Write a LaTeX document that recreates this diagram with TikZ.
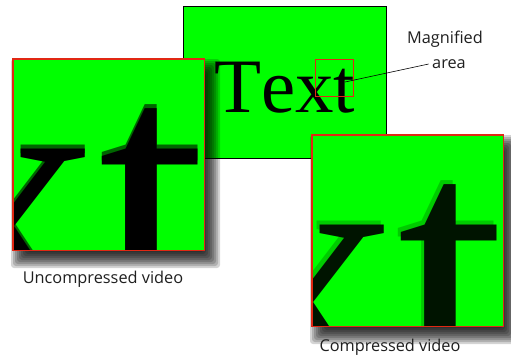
\documentclass[tikz,border=0pt]{standalone}
\usepackage{fontspec}
\setmainfont{Liberation Serif}
\newfontfamily\labelfont{Open Sans}
\newfontfamily\bigfont[Kerning=Off]{Liberation Serif}
\usetikzlibrary{calc}
\definecolor{vgreen}{RGB}{0,255,0}
\definecolor{vred}{RGB}{225,40,20}
\newcommand\bigword{\bigfont\fontsize{77}{77}\selectfont}
\newcommand\magscale{5.05}
\newcommand\softshadow[2]{%
  \foreach \r in {9,7,...,-7}{%
    \fill[black, opacity=0.17, rounded corners=3pt]
      ($(#1)+(7-\r,9-\r)$) rectangle ($(#2)+(7+\r,9+\r)$);}}
\begin{document}
\begin{tikzpicture}[x=1pt,y=-1pt,
  lbl/.style={font=\labelfont\fontsize{16.3}{18}\selectfont, text=black!88},
  magbox/.style={fill=vgreen, minimum width=191pt, minimum height=191pt,
    inner sep=0, anchor=north west},
  framebox/.style={draw=vred, line width=1.1pt},
  bigtext/.style={font=\bigword, anchor=base west, inner sep=0}]
\useasboundingbox (0,0) rectangle (511,362);
\fill[white] (0,0) rectangle (511,362);
% main picture
\node[draw=black, fill=vgreen, line width=0.8pt, minimum width=203pt, minimum height=152pt,
  inner sep=0, anchor=north west] (mainbox) at (183,6) {};
\node[bigtext] (word) at (214,112) {Text};
\node[framebox, line width=1.4pt, minimum width=38pt, minimum height=37pt, inner sep=0, anchor=north west] (zoomrect) at (315,59) {};
\node[lbl] (maglabel) at (445,39) {Magnified};
\node[lbl] (arealabel) at (449,64) {area};
\coordinate (lstart) at (345,82);
\draw[line width=0.6pt] (lstart) -- (arealabel.west);
% uncompressed magnified view
\coordinate (lnw) at (13,59);
\coordinate (lse) at (204,250);
\softshadow{lnw}{lse}
\node[magbox] (leftbox) at (lnw) {};
\begin{scope}
  \clip (leftbox.north west) rectangle (leftbox.south east);
  \node[bigtext, scale=\magscale, text=green!40!black] (lefthalo) at ({13+(214-317)*\magscale},{59+(112-58.9)*\magscale-4}) {Text};
  \node[bigtext, scale=\magscale] (leftword) at ({13+(214-317)*\magscale},{59+(112-58.9)*\magscale}) {Text};
\end{scope}
\draw[framebox] (leftbox.north west) rectangle (leftbox.south east);
\node[lbl] (uncomp) at (103,279) {Uncompressed video};
% compressed magnified view
\coordinate (rnw) at (312,135);
\coordinate (rse) at (503,326);
\softshadow{rnw}{rse}
\node[magbox] (rightbox) at (rnw) {};
\begin{scope}
  \clip (rightbox.north west) rectangle (rightbox.south east);
  \node[bigtext, scale=\magscale, text=green!55!black, opacity=0.45] (righthalo) at ({312+(214-317)*\magscale-3},{135+(112-58.9)*\magscale-4}) {Text};
  \node[bigtext, scale=\magscale, text=black!80!green!40!black] (rightword) at ({312+(214-317)*\magscale},{135+(112-58.9)*\magscale}) {Text};
\end{scope}
\draw[framebox] (rightbox.north west) rectangle (rightbox.south east);
\node[lbl] (comp) at (390,347) {Compressed video};
\end{tikzpicture}
\end{document}
